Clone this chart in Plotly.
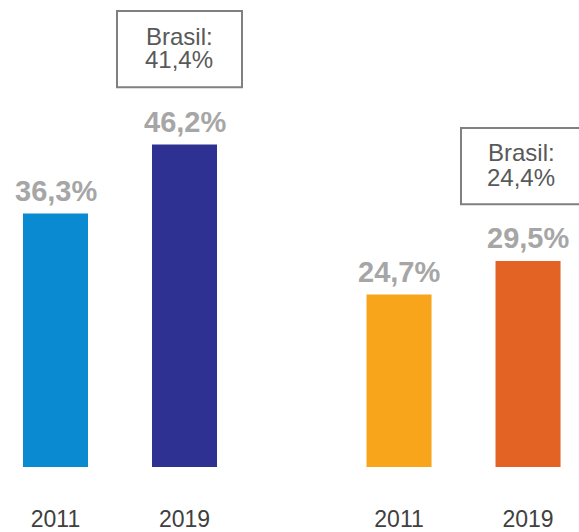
import plotly.graph_objects as go

# ---- data ----
years = ["2011", "2019", "2011", "2019"]
values = [36.3, 46.2, 24.7, 29.5]
value_labels = ["36,3%", "46,2%", "24,7%", "29,5%"]
bar_colors = ["#0A8AD0", "#2E3192", "#F8A51C", "#E26324"]
brasil_labels = ["41,4%", "24,4%"]

# ---- layout helpers ----
W, H = 579, 532
MB = 61
PH = H - MB  # plot height in px

def px_x(p):
    return p / W

def px_y(p):
    return (PH - p) / PH

group_gap = 1.663
xpos = [0, 1, group_gap + 1, group_gap + 2]

fig = go.Figure()
fig.add_trace(go.Bar(
    x=xpos, y=values, width=0.504,
    marker=dict(color=bar_colors, line=dict(width=0)),
    hoverinfo="skip",
))

annotations = []
for xp, v, lab in zip(xpos, values, value_labels):
    annotations.append(dict(
        x=xp, y=v, xref="x", yref="y", text=f"<b>{lab}</b>",
        showarrow=False, yanchor="middle", xanchor="center", yshift=23,
        font=dict(family="Liberation Sans, Arial, sans-serif", size=29, color="#A6A6A6"),
    ))

# Brasil boxes (pixel layout)
boxes = [
    dict(x0=117, x1=242, y0=11, y1=88, cx=179, l1=37, l2=60),
    dict(x0=461, x1=586, y0=129, y1=206, cx=521, l1=154, l2=179),
]
shapes = []
for b, bl in zip(boxes, brasil_labels):
    shapes.append(dict(
        type="rect", xref="paper", yref="paper",
        x0=px_x(b["x0"]), x1=px_x(b["x1"]), y0=px_y(b["y1"]), y1=px_y(b["y0"]),
        line=dict(color="#808080", width=2), fillcolor="rgba(0,0,0,0)", layer="above",
    ))
    for txt, ly in (("Brasil:", b["l1"]), (bl, b["l2"])):
        annotations.append(dict(
            x=px_x(b["cx"]), y=px_y(ly), xref="paper", yref="paper", text=txt,
            showarrow=False, xanchor="center", yanchor="middle",
            font=dict(family="Liberation Sans, Arial, sans-serif", size=24, color="#595959"),
        ))

fig.update_layout(
    width=W, height=H,
    margin=dict(l=0, r=0, t=0, b=MB),
    paper_bgcolor="white", plot_bgcolor="white",
    showlegend=False,
    shapes=shapes, annotations=annotations,
    xaxis=dict(
        range=[-55.5 / 129, (W - 55.5) / 129],
        tickvals=xpos, ticktext=years,
        tickfont=dict(family="Liberation Sans, Arial, sans-serif", size=23, color="#404040"),
        ticks="outside", ticklen=31, tickcolor="rgba(0,0,0,0)",
        showgrid=False, zeroline=False, showline=False, fixedrange=True,
    ),
    yaxis=dict(
        range=[0, PH / 7.04], visible=False, showgrid=False, zeroline=False, fixedrange=True,
    ),
)

fig.write_html(
    "out.html",
    config={"displayModeBar": False},
    post_script="document.body.style.margin='0';document.body.style.overflow='hidden';",
)
